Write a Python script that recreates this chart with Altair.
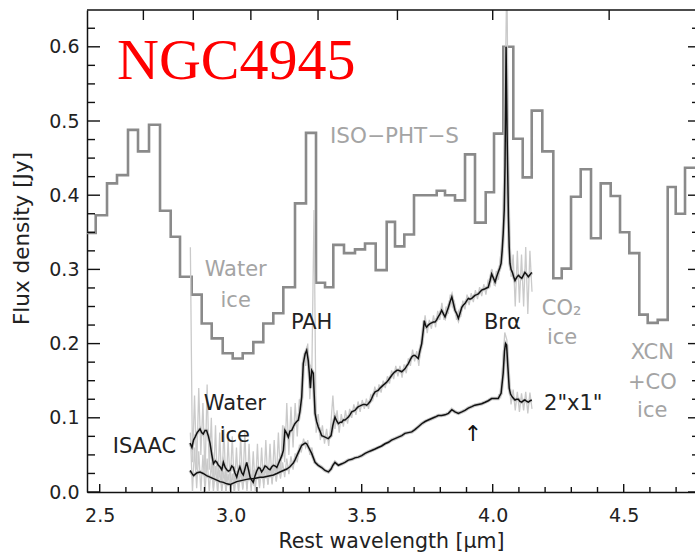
import numpy as np
import pandas as pd
import altair as alt

# ---------------------------------------------------------------------------
# Plot geometry and scales
# ---------------------------------------------------------------------------
W, H = 608, 482
X_DOM = [2.4515, 4.7721]
Y_DOM = [0.0, 0.6496]
xs = alt.Scale(domain=X_DOM, nice=False, zero=False)
ys = alt.Scale(domain=Y_DOM, nice=False, zero=False)
FONT = "DejaVu Sans"
GRAY_TXT = "#a4a4a4"

# ---------------------------------------------------------------------------
# ISO-PHT-S spectrum (bin left edges [um], flux [Jy])
# ---------------------------------------------------------------------------
iso_edges = [2.445, 2.4847, 2.5279, 2.5660, 2.6080, 2.6462, 2.6882, 2.7302,
             2.7710, 2.8065, 2.8511, 2.8893, 2.9275, 2.9695, 3.0076, 3.0458,
             3.0863, 3.1244, 3.1626, 3.2008, 3.2454, 3.2874, 3.3256, 3.3600,
             3.3916, 3.4324, 3.4744, 3.5126, 3.5534, 3.5954, 3.6271, 3.6626,
             3.6996, 3.7416, 3.7863, 3.8179, 3.8561, 3.8943, 3.9324, 3.9733,
             4.0050, 4.0405, 4.0786, 4.1145, 4.1489, 4.1893, 4.2313, 4.2634,
             4.2989, 4.3359, 4.3752, 4.4122, 4.4504, 4.4859, 4.5214, 4.5595,
             4.5916, 4.6298, 4.6679, 4.6985, 4.7340, 4.8000]
iso_flux = [0.349, 0.373, 0.416, 0.427, 0.488, 0.459, 0.495, 0.379,
            0.344, 0.290, 0.266, 0.227, 0.207, 0.187, 0.180, 0.187,
            0.202, 0.227, 0.241, 0.276, 0.389, 0.484, 0.282, 0.276,
            0.333, 0.322, 0.327, 0.335, 0.299, 0.364, 0.331, 0.347,
            0.400, 0.400, 0.406, 0.400, 0.393, 0.455, 0.363, 0.404,
            0.483, 0.600, 0.476, 0.424, 0.514, 0.459, 0.288, 0.301,
            0.398, 0.435, 0.342, 0.416, 0.399, 0.350, 0.322, 0.239,
            0.228, 0.232, 0.411, 0.375, 0.437, 0.437]

# ---------------------------------------------------------------------------
# ISAAC spectra, smoothed (black): large aperture and 2"x1" aperture
# ---------------------------------------------------------------------------
big_wl = [2.845, 2.852, 2.858, 2.864, 2.872, 2.883, 2.889, 2.895, 2.902, 2.908,
          2.915, 2.921, 2.928, 2.934, 2.941, 2.947, 2.953, 2.959, 2.966, 2.972,
          2.979, 2.985, 2.991, 2.997, 3.004, 3.010, 3.016, 3.023, 3.029, 3.035,
          3.042, 3.048, 3.055, 3.061, 3.068, 3.074, 3.080, 3.086, 3.093, 3.099,
          3.106, 3.112, 3.118, 3.124, 3.131, 3.137, 3.144, 3.150, 3.157, 3.163,
          3.170, 3.176, 3.182, 3.188, 3.195, 3.201, 3.207, 3.214, 3.220, 3.226,
          3.233, 3.239, 3.245, 3.252, 3.258, 3.264, 3.271, 3.277, 3.284, 3.290,
          3.296, 3.300, 3.304, 3.309, 3.315, 3.322, 3.328, 3.334, 3.341, 3.347,
          3.354, 3.360, 3.366, 3.373, 3.378, 3.383, 3.390, 3.398, 3.404, 3.411,
          3.418, 3.424, 3.430, 3.436, 3.443, 3.449, 3.455, 3.462, 3.468, 3.474,
          3.481, 3.487, 3.494, 3.500, 3.506, 3.513, 3.519, 3.525, 3.532, 3.538,
          3.544, 3.551, 3.557, 3.563, 3.570, 3.576, 3.582, 3.589, 3.595, 3.602,
          3.608, 3.614, 3.621, 3.627, 3.634, 3.640, 3.647, 3.653, 3.659, 3.665,
          3.672, 3.678, 3.685, 3.691, 3.697, 3.703, 3.710, 3.716, 3.722, 3.729,
          3.735, 3.739, 3.744, 3.748, 3.754, 3.761, 3.767, 3.773, 3.780, 3.786,
          3.792, 3.799, 3.805, 3.812, 3.818, 3.825, 3.831, 3.837, 3.844, 3.850,
          3.856, 3.863, 3.869, 3.876, 3.882, 3.888, 3.894, 3.901, 3.907, 3.913,
          3.920, 3.926, 3.932, 3.939, 3.945, 3.952, 3.958, 3.964, 3.971, 3.977,
          3.983, 3.990, 3.996, 4.003, 4.009, 4.015, 4.021, 4.027, 4.032, 4.036,
          4.040, 4.044, 4.047, 4.051, 4.055, 4.060, 4.063, 4.066, 4.070, 4.075,
          4.080, 4.085, 4.091, 4.098, 4.104, 4.111, 4.117, 4.123, 4.130, 4.136,
          4.143, 4.149]
big_flux = [0.066, 0.060, 0.070, 0.074, 0.080, 0.085, 0.080, 0.078, 0.083, 0.083,
            0.075, 0.066, 0.050, 0.038, 0.042, 0.040, 0.036, 0.034, 0.030, 0.040,
            0.033, 0.030, 0.028, 0.029, 0.035, 0.033, 0.026, 0.020, 0.028, 0.034,
            0.026, 0.023, 0.032, 0.040, 0.030, 0.020, 0.016, 0.013, 0.022, 0.028,
            0.033, 0.032, 0.027, 0.030, 0.035, 0.034, 0.031, 0.030, 0.034, 0.036,
            0.035, 0.033, 0.038, 0.043, 0.049, 0.056, 0.083, 0.079, 0.074, 0.082,
            0.083, 0.088, 0.092, 0.095, 0.097, 0.108, 0.128, 0.173, 0.186, 0.191,
            0.177, 0.160, 0.140, 0.164, 0.160, 0.106, 0.095, 0.088, 0.082, 0.076,
            0.075, 0.074, 0.073, 0.072, 0.074, 0.076, 0.090, 0.101, 0.096, 0.092,
            0.094, 0.094, 0.097, 0.097, 0.099, 0.101, 0.104, 0.108, 0.109, 0.110,
            0.113, 0.115, 0.116, 0.117, 0.118, 0.118, 0.117, 0.119, 0.122, 0.126,
            0.131, 0.135, 0.136, 0.137, 0.140, 0.142, 0.144, 0.146, 0.148, 0.151,
            0.154, 0.157, 0.160, 0.162, 0.164, 0.164, 0.163, 0.162, 0.164, 0.166,
            0.170, 0.173, 0.178, 0.182, 0.184, 0.184, 0.182, 0.180, 0.190, 0.200,
            0.218, 0.231, 0.224, 0.222, 0.225, 0.227, 0.228, 0.229, 0.229, 0.232,
            0.236, 0.240, 0.245, 0.240, 0.236, 0.243, 0.249, 0.256, 0.263, 0.254,
            0.245, 0.240, 0.234, 0.242, 0.249, 0.252, 0.254, 0.258, 0.261, 0.260,
            0.261, 0.263, 0.265, 0.266, 0.267, 0.270, 0.272, 0.273, 0.274, 0.275,
            0.276, 0.285, 0.294, 0.288, 0.283, 0.290, 0.296, 0.302, 0.308, 0.325,
            0.348, 0.380, 0.440, 0.600, 0.480, 0.371, 0.330, 0.308, 0.300, 0.296,
            0.290, 0.285, 0.289, 0.292, 0.290, 0.288, 0.292, 0.296, 0.293, 0.290,
            0.293, 0.296]

small_wl = [2.845, 2.852, 2.858, 2.865, 2.872, 2.883, 2.895, 2.908, 2.921, 2.934,
            2.947, 2.959, 2.972, 2.985, 2.997, 3.010, 3.023, 3.035, 3.048, 3.061,
            3.074, 3.086, 3.099, 3.112, 3.124, 3.137, 3.150, 3.163, 3.176, 3.188,
            3.201, 3.214, 3.226, 3.239, 3.245, 3.258, 3.271, 3.284, 3.290, 3.296,
            3.309, 3.322, 3.334, 3.347, 3.360, 3.373, 3.383, 3.390, 3.398, 3.411,
            3.424, 3.436, 3.449, 3.462, 3.474, 3.487, 3.500, 3.513, 3.525, 3.538,
            3.551, 3.563, 3.576, 3.589, 3.602, 3.614, 3.627, 3.640, 3.653, 3.665,
            3.678, 3.691, 3.703, 3.716, 3.729, 3.742, 3.754, 3.767, 3.780, 3.792,
            3.805, 3.818, 3.831, 3.844, 3.856, 3.869, 3.882, 3.894, 3.907, 3.920,
            3.932, 3.945, 3.958, 3.971, 3.983, 3.996, 4.009, 4.021, 4.027, 4.032,
            4.040, 4.045, 4.049, 4.053, 4.058, 4.063, 4.068, 4.075, 4.085, 4.091,
            4.098, 4.104, 4.111, 4.117, 4.123, 4.130, 4.136, 4.143, 4.149]
small_flux = [0.029, 0.025, 0.022, 0.024, 0.026, 0.027, 0.025, 0.022, 0.020, 0.018,
              0.016, 0.014, 0.013, 0.011, 0.010, 0.012, 0.014, 0.015, 0.016, 0.017,
              0.018, 0.018, 0.019, 0.020, 0.020, 0.021, 0.022, 0.023, 0.025, 0.027,
              0.029, 0.031, 0.034, 0.039, 0.043, 0.053, 0.063, 0.066, 0.065, 0.061,
              0.052, 0.040, 0.036, 0.033, 0.029, 0.027, 0.031, 0.036, 0.040, 0.036,
              0.038, 0.040, 0.043, 0.044, 0.046, 0.047, 0.049, 0.052, 0.054, 0.056,
              0.058, 0.060, 0.062, 0.065, 0.067, 0.070, 0.072, 0.074, 0.076, 0.079,
              0.080, 0.081, 0.084, 0.088, 0.092, 0.095, 0.097, 0.099, 0.101, 0.103,
              0.103, 0.104, 0.106, 0.111, 0.108, 0.106, 0.108, 0.110, 0.113, 0.115,
              0.117, 0.118, 0.119, 0.121, 0.123, 0.126, 0.126, 0.126, 0.130, 0.133,
              0.160, 0.190, 0.200, 0.198, 0.168, 0.140, 0.132, 0.128, 0.124, 0.125,
              0.125, 0.122, 0.121, 0.123, 0.124, 0.122, 0.121, 0.123, 0.124]

# ---------------------------------------------------------------------------
# ISAAC spectra at full resolution (light gray), sampled every 0.008 um
# ---------------------------------------------------------------------------
big_raw = [0.330, 0.040, 0.130, 0.030, 0.140, 0.050, 0.120, 0.020, 0.145, 0.030,
           0.100, 0.005, 0.090, 0.000, 0.080, 0.005, 0.085, 0.000, 0.070, 0.010,
           0.075, 0.000, 0.060, 0.000, 0.075, 0.005, 0.080, 0.000, 0.065, 0.000,
           0.055, 0.000, 0.065, 0.005, 0.060, 0.005, 0.070, 0.010, 0.065, 0.010,
           0.070, 0.015, 0.080, 0.020, 0.090, 0.040, 0.120, 0.050, 0.115, 0.060,
           0.120, 0.075, 0.125, 0.110, 0.185, 0.170, 0.200, 0.125, 0.170, 0.380,
           0.080, 0.105, 0.070, 0.090, 0.065, 0.085, 0.062, 0.090, 0.130, 0.085,
           0.110, 0.080, 0.105, 0.088, 0.110, 0.092, 0.112, 0.100, 0.118, 0.104,
           0.122, 0.108, 0.124, 0.112, 0.126, 0.112, 0.130, 0.124, 0.142, 0.128,
           0.145, 0.134, 0.150, 0.140, 0.156, 0.146, 0.164, 0.152, 0.170, 0.156,
           0.170, 0.154, 0.172, 0.160, 0.180, 0.170, 0.192, 0.176, 0.190, 0.170,
           0.198, 0.215, 0.238, 0.214, 0.232, 0.220, 0.238, 0.222, 0.244, 0.232,
           0.255, 0.232, 0.250, 0.240, 0.266, 0.250, 0.256, 0.232, 0.244, 0.236,
           0.258, 0.246, 0.266, 0.252, 0.268, 0.256, 0.272, 0.260, 0.276, 0.264,
           0.280, 0.266, 0.284, 0.278, 0.300, 0.278, 0.298, 0.286, 0.318, 0.340,
           0.500, 0.700, 0.360, 0.290, 0.320, 0.250, 0.325, 0.255, 0.320, 0.250,
           0.330, 0.240, 0.325, 0.270]
big_raw_wl = np.round(2.846 + 0.008 * np.arange(len(big_raw)), 3)

small_raw_a = [0.080, 0.000, 0.060, 0.005, 0.055, 0.000, 0.050, 0.000, 0.045, 0.000,
               0.040, 0.000, 0.035, 0.000, 0.030, 0.000, 0.028, 0.000, 0.025, 0.000,
               0.025, 0.000, 0.028, 0.002, 0.030, 0.003, 0.030, 0.004, 0.032, 0.006,
               0.030, 0.008, 0.032, 0.008, 0.032, 0.010, 0.034, 0.010, 0.034, 0.012,
               0.036, 0.014, 0.038, 0.018, 0.040, 0.020, 0.045, 0.024, 0.048, 0.030,
               0.052, 0.040, 0.062, 0.055, 0.072, 0.060, 0.070, 0.050, 0.060, 0.040,
               0.042]
small_raw_a_wl = np.round(2.846 + 0.008 * np.arange(len(small_raw_a)), 3)
small_raw_b = [0.132, 0.128, 0.170, 0.215, 0.205, 0.150, 0.118, 0.138, 0.110,
               0.135, 0.108, 0.133, 0.110, 0.135, 0.106, 0.134, 0.112]
small_raw_b_wl = np.round(4.022 + 0.008 * np.arange(len(small_raw_b)), 3)

# ---------------------------------------------------------------------------
# Axis tick positions
# ---------------------------------------------------------------------------
x_major = [2.5, 3.0, 3.5, 4.0, 4.5]
x_minor = [v for v in np.round(np.arange(2.5, 4.75, 0.1), 2) if v not in x_major]
y_major = [0.0, 0.1, 0.2, 0.3, 0.4, 0.5, 0.6]
y_minor = [v for v in np.round(np.arange(0.0, 0.649, 0.025), 3) if v not in y_major]
wavenumbers = [3750, 3500, 3250, 3000, 2750, 2500, 2250]   # cm^-1, top axis
top_ticks = [1.0e4 / k for k in wavenumbers]

# ---------------------------------------------------------------------------
# Tables
# ---------------------------------------------------------------------------
iso_df = pd.DataFrame({"wl": iso_edges, "flux": iso_flux})
big_df = pd.DataFrame({"wl": big_wl, "flux": big_flux})
small_df = pd.DataFrame({"wl": small_wl, "flux": small_flux})
raw_df = pd.concat([
    pd.DataFrame({"wl": big_raw_wl, "flux": big_raw, "seg": "big"}),
    pd.DataFrame({"wl": small_raw_a_wl, "flux": small_raw_a, "seg": "small_a"}),
    pd.DataFrame({"wl": small_raw_b_wl, "flux": small_raw_b, "seg": "small_b"}),
])

x_axis = alt.Axis(values=x_major, format=".1f", ticks=False, grid=False,
                  domainColor="#111", domainWidth=1.5, labelFont=FONT,
                  labelFontSize=19, labelColor="#222", labelPadding=14,
                  labelFlush=False, title="Rest wavelength [μm]",
                  titleFont=FONT, titleFontSize=20.5, titleFontWeight="normal",
                  titleColor="#222", titleY=55, titleBaseline="alphabetic")
y_axis = alt.Axis(values=y_major, format=".1f", ticks=False, grid=False,
                  domainColor="#111", domainWidth=1.5, labelFont=FONT,
                  labelFontSize=19, labelColor="#222", labelPadding=8,
                  labelFlush=False, title="Flux density [Jy]",
                  titleFont=FONT, titleFontSize=21.5, titleFontWeight="normal",
                  titleColor="#222", titleX=-65, titleY=228,
                  titleAlign="center", titleBaseline="middle", titleAngle=-90)


def X(field="wl"):
    return alt.X(f"{field}:Q", scale=xs, axis=x_axis)


def Y(field="flux"):
    return alt.Y(f"{field}:Q", scale=ys, axis=y_axis)


# ---------------------------------------------------------------------------
# Layers
# ---------------------------------------------------------------------------
iso = alt.Chart(iso_df).mark_line(
    interpolate="step-after", color="#8a8a8a", strokeWidth=2.6, clip=True
).encode(x=X(), y=Y())

raw = alt.Chart(raw_df).mark_line(color="#cacaca", strokeWidth=1.3, clip=True).encode(
    x=X(), y=Y(), detail="seg:N")

halo_big = alt.Chart(big_df).mark_line(color="#c8c8c8", strokeWidth=3.5, clip=True).encode(x=X(), y=Y())
halo_small = alt.Chart(small_df).mark_line(color="#c8c8c8", strokeWidth=3.5, clip=True).encode(x=X(), y=Y())
big = alt.Chart(big_df).mark_line(color="#111", strokeWidth=1.5, clip=True).encode(x=X(), y=Y())
small = alt.Chart(small_df).mark_line(color="#111", strokeWidth=1.5, clip=True).encode(x=X(), y=Y())

# Frame and inward ticks
tick_style = dict(color="#111", strokeWidth=1.4)
frame_top = alt.Chart(pd.DataFrame({"k": [0]})).mark_rule(**tick_style).encode(
    x=alt.value(0), x2=alt.value(W), y=alt.value(0))
xmaj = alt.Chart(pd.DataFrame({"v": x_major})).mark_rule(**tick_style).encode(
    x=X("v"), y=alt.value(H), y2=alt.value(H - 8))
xmin = alt.Chart(pd.DataFrame({"v": x_minor})).mark_rule(**tick_style).encode(
    x=X("v"), y=alt.value(H), y2=alt.value(H - 5))
xtop = alt.Chart(pd.DataFrame({"v": top_ticks})).mark_rule(**tick_style).encode(
    x=X("v"), y=alt.value(0), y2=alt.value(10))
ymaj = alt.Chart(pd.DataFrame({"v": y_major})).mark_rule(**tick_style).encode(
    y=Y("v"), x=alt.value(0), x2=alt.value(13))
ymin = alt.Chart(pd.DataFrame({"v": y_minor})).mark_rule(**tick_style).encode(
    y=Y("v"), x=alt.value(0), x2=alt.value(8))
rmaj = alt.Chart(pd.DataFrame({"v": y_major})).mark_rule(**tick_style).encode(
    y=Y("v"), x=alt.value(W - 7), x2=alt.value(W))
rmin = alt.Chart(pd.DataFrame({"v": y_minor})).mark_rule(**tick_style).encode(
    y=Y("v"), x=alt.value(W - 3), x2=alt.value(W))

# Annotations
gray_c = pd.DataFrame({
    "t": ["Water", "ice", "CO₂", "ice", "XCN", "+CO", "ice"],
    "wl": [3.019, 3.019, 4.263, 4.265, 4.609, 4.609, 4.609],
    "flux": [0.299, 0.258, 0.246, 0.208, 0.188, 0.147, 0.109],
})
black_c = pd.DataFrame({
    "t": ["PAH", "Water", "ice", "ISAAC", "Brα"],
    "wl": [3.309, 3.016, 3.016, 2.671, 4.037],
    "flux": [0.228, 0.118, 0.075, 0.060, 0.228],
})
iso_lab = pd.DataFrame({"t": ["ISO−PHT−S"], "wl": [3.379], "flux": [0.478]})
ap_lab = pd.DataFrame({"t": ['2"x1"'], "wl": [4.196], "flux": [0.118]})
arrow = pd.DataFrame({"t": ["↑"], "wl": [3.925], "flux": [0.078]})
name = pd.DataFrame({"t": ["NGC4945"], "wl": [2.566], "flux": [0.556]})

txt = dict(font=FONT, fontSize=21, baseline="middle")
t_gray = alt.Chart(gray_c).mark_text(color=GRAY_TXT, align="center", **txt).encode(
    x=X(), y=Y(), text="t:N")
t_black = alt.Chart(black_c).mark_text(color="#222", align="center", **txt).encode(
    x=X(), y=Y(), text="t:N")
t_iso = alt.Chart(iso_lab).mark_text(color=GRAY_TXT, align="left", font=FONT,
                                     fontSize=21.5, baseline="middle").encode(
    x=X(), y=Y(), text="t:N")
t_ap = alt.Chart(ap_lab).mark_text(color="#222", align="left", **txt).encode(
    x=X(), y=Y(), text="t:N")
t_arrow = alt.Chart(arrow).mark_text(color="#111", align="center", font=FONT,
                                     fontSize=22, baseline="middle").encode(
    x=X(), y=Y(), text="t:N")
t_name = alt.Chart(name).mark_text(color="#ff0000", align="left", font="Liberation Serif",
                                   fontSize=58, baseline="alphabetic").encode(
    x=X(), y=Y(), text="t:N")

chart = alt.layer(
    iso, raw, halo_big, halo_small, big, small,
    frame_top, xmaj, xmin, xtop, ymaj, ymin, rmaj, rmin,
    t_gray, t_black, t_iso, t_ap, t_arrow, t_name,
).properties(
    width=W, height=H,
    autosize=alt.AutoSizeParams(type="none"),
    padding={"left": 87, "top": 10, "right": 0, "bottom": 60},
    background="white",
).configure_view(stroke=None)

chart.save("out.html", embed_options={"renderer": "svg", "actions": False})
